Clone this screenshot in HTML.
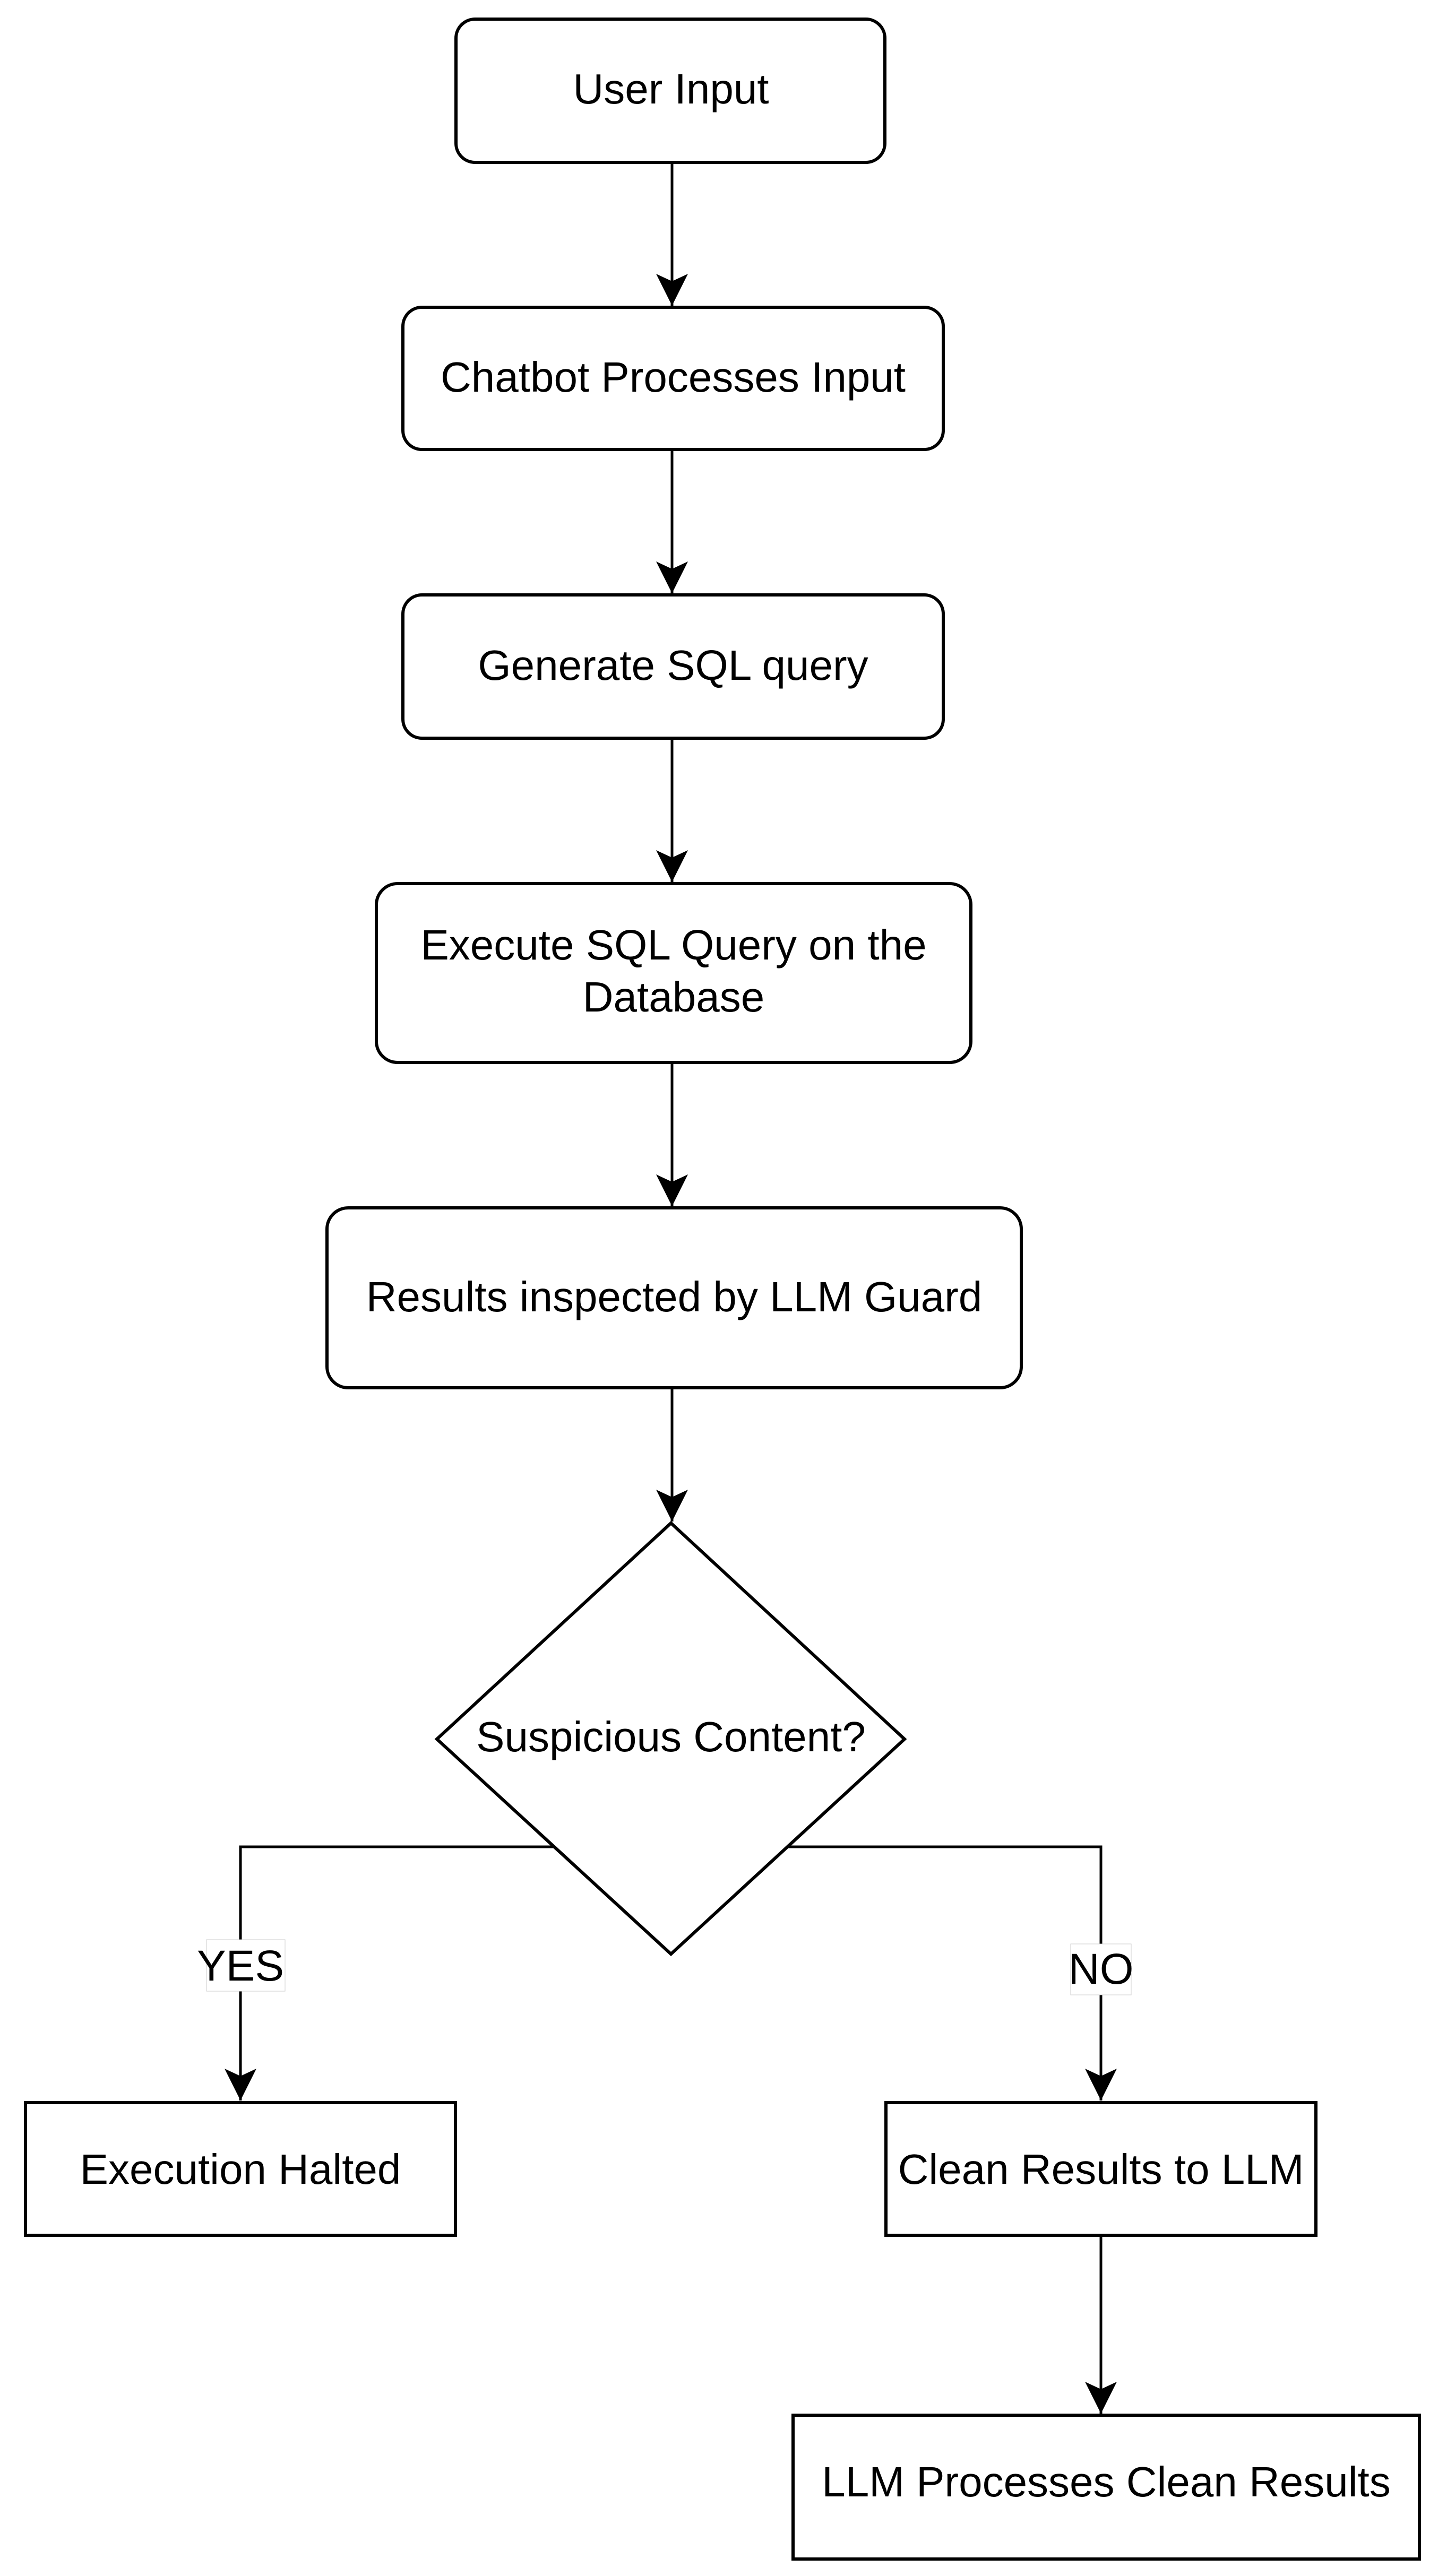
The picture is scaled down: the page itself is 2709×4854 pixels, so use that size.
<!DOCTYPE html>
<html><head><meta charset="utf-8"><style>
html,body{margin:0;padding:0;background:#fff;}
svg{display:block;}
text{font-family:"Liberation Sans",Arial,sans-serif;font-size:80px;fill:#000;}
</style></head><body>
<svg width="2709" height="4854" viewBox="0 0 2709 4854" xmlns="http://www.w3.org/2000/svg">
<defs>
<marker id="a" markerUnits="userSpaceOnUse" markerWidth="70" markerHeight="70" refX="60" refY="30" orient="auto">
<path d="M0,0 L60,30 L0,60 L14,30 Z" fill="#000"/>
</marker>
</defs>
<g fill="#fff" stroke="#000" stroke-width="6">
<rect x="859" y="36" width="808" height="270" rx="36"/>
<rect x="759" y="579" width="1018" height="268" rx="36"/>
<rect x="759" y="1121" width="1018" height="270" rx="36"/>
<rect x="709" y="1665" width="1120" height="337" rx="40"/>
<rect x="616" y="2276" width="1308" height="339" rx="40"/>
</g>
<g stroke="#000" stroke-width="5" fill="none">
<line x1="1266" y1="306" x2="1266" y2="576" marker-end="url(#a)"/>
<line x1="1266" y1="847" x2="1266" y2="1118" marker-end="url(#a)"/>
<line x1="1266" y1="1391" x2="1266" y2="1662" marker-end="url(#a)"/>
<line x1="1266" y1="2002" x2="1266" y2="2273" marker-end="url(#a)"/>
<line x1="1266" y1="2615" x2="1266" y2="2867" marker-end="url(#a)"/>
<polyline points="1266,3480 453,3480 453,3958" marker-end="url(#a)"/>
<polyline points="1266,3480 2074,3480 2074,3958" marker-end="url(#a)"/>
<line x1="2074" y1="4212" x2="2074" y2="4548" marker-end="url(#a)"/>
</g>
<polygon points="1264,2870 1704,3277 1264,3682 823,3277" fill="#fff" stroke="#000" stroke-width="6"/>
<g fill="#fff" stroke="#000" stroke-width="6">
<rect x="48" y="3962" width="810" height="250"/>
<rect x="1669" y="3962" width="810" height="250"/>
<rect x="1494" y="4551" width="1180" height="271"/>
</g>
<rect x="389" y="3655" width="148" height="97" fill="#fff" stroke="#ccc" stroke-width="1"/>
<rect x="2017" y="3663" width="114" height="96" fill="#fff" stroke="#ccc" stroke-width="1"/>
<g text-anchor="middle">
<text x="1264" y="195">User Input</text>
<text x="1268" y="738">Chatbot Processes Input</text>
<text x="1268" y="1281">Generate SQL query</text>
<text x="1269" y="1808">Execute SQL Query on the</text>
<text x="1269" y="1906">Database</text>
<text x="1270" y="2471">Results inspected by LLM Guard</text>
<text x="1264" y="3300">Suspicious Content?</text>
<text x="453" y="3732" style="font-size:82px">YES</text>
<text x="2074" y="3738" style="font-size:82px">NO</text>
<text x="453" y="4115">Execution Halted</text>
<text x="2074" y="4115">Clean Results to LLM</text>
<text x="2084" y="4704">LLM Processes Clean Results</text>
</g>
</svg>
</body></html>
